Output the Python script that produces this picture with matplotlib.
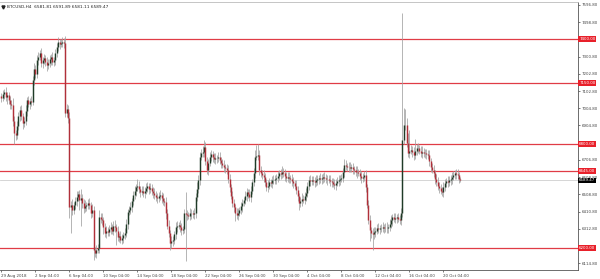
import matplotlib
matplotlib.use('Agg')
import matplotlib.pyplot as plt
import numpy as np

# BTCUSD H4 closes, 29 Aug -> 22 Oct 2018
closes = [
    7063, 7085, 7097, 7070, 7080, 7051, 7030, 7022, 6930, 6860,
    6850, 6900, 6960, 6994, 6960, 6919, 6930, 6990, 7051, 7030,
    7045, 7040, 7166, 7230, 7200, 7281, 7300, 7321, 7264, 7280,
    7293, 7270, 7250, 7264, 7285, 7298, 7270, 7281, 7320, 7356,
    7384, 7375, 7379, 7385, 7379, 6976, 7000, 6950, 6436, 6450,
    6420, 6448, 6470, 6494, 6510, 6477, 6490, 6460, 6430, 6445,
    6448, 6460, 6448, 6402, 6420, 6189, 6172, 6190, 6201, 6379,
    6370, 6362, 6320, 6287, 6300, 6293, 6310, 6321, 6300, 6330,
    6321, 6300, 6264, 6270, 6250, 6258, 6275, 6287, 6340, 6408,
    6420, 6436, 6470, 6505, 6530, 6551, 6560, 6540, 6523, 6530,
    6517, 6530, 6546, 6555, 6540, 6546, 6530, 6517, 6505, 6495,
    6488, 6500, 6505, 6490, 6470, 6465, 6400, 6330, 6287, 6229,
    6240, 6247, 6280, 6321, 6330, 6333, 6320, 6304, 6310, 6402,
    6395, 6390, 6385, 6402, 6400, 6395, 6402, 6494, 6540, 6592,
    6724, 6747, 6753, 6781, 6700, 6649, 6690, 6724, 6740, 6724,
    6710, 6718, 6718, 6725, 6706, 6690, 6678, 6665, 6660, 6649,
    6600, 6551, 6500, 6460, 6436, 6400, 6390, 6405, 6419, 6440,
    6460, 6477, 6500, 6523, 6510, 6494, 6530, 6580, 6632, 6724,
    6730, 6735, 6649, 6630, 6620, 6609, 6580, 6551, 6560, 6580,
    6575, 6590, 6592, 6598, 6603, 6615, 6632, 6625, 6640, 6632,
    6615, 6603, 6610, 6603, 6595, 6585, 6574, 6560, 6534, 6500,
    6459, 6470, 6485, 6477, 6500, 6517, 6560, 6592, 6585, 6592,
    6588, 6580, 6590, 6598, 6603, 6595, 6603, 6610, 6603, 6598,
    6595, 6592, 6585, 6580, 6570, 6563, 6575, 6585, 6592, 6598,
    6603, 6640, 6678, 6670, 6668, 6666, 6660, 6666, 6655, 6649,
    6640, 6635, 6632, 6615, 6603, 6610, 6620, 6551, 6450, 6362,
    6304, 6290, 6280, 6293, 6300, 6316, 6310, 6316, 6316, 6320,
    6316, 6318, 6315, 6321, 6340, 6360, 6379, 6370, 6375, 6379,
    6370, 6362, 6402, 6821, 6907, 6907, 6804, 6747, 6760, 6764,
    6750, 6735, 6760, 6775, 6775, 6760, 6747, 6755, 6745, 6747,
    6740, 6735, 6700, 6666, 6650, 6632, 6600, 6580, 6560, 6546,
    6530, 6523, 6550, 6574, 6585, 6580, 6590, 6600, 6609, 6620,
    6632, 6625, 6620, 6600, 6589.47,
]

# wick lengths above / below the candle body
up_wick = [
    20, 25, 15, 30, 20, 15, 25, 20, 40, 30,
    20, 30, 25, 20, 30, 15, 25, 30, 20, 25,
    15, 30, 25, 35, 20, 30, 25, 20, 30, 20,
    25, 15, 30, 20, 25, 20, 30, 15, 25, 20,
    30, 20, 25, 30, 20, 40, 30, 25, 30, 20,
    30, 20, 25, 35, 20, 25, 50, 20, 25, 30,
    20, 25, 30, 20, 35, 25, 20, 30, 25, 40,
    25, 30, 20, 25, 30, 20, 25, 30, 20, 25,
    30, 20, 25, 20, 30, 25, 20, 30, 25, 20,
    25, 30, 20, 25, 30, 20, 35, 25, 20, 30,
    25, 20, 30, 25, 20, 30, 25, 20, 30, 25,
    20, 25, 30, 20, 25, 20, 30, 25, 30, 20,
    30, 25, 20, 30, 25, 20, 30, 25, 20, 25,
    120, 25, 20, 30, 25, 20, 30, 25, 40, 30,
    30, 25, 35, 40, 30, 25, 20, 30, 25, 20,
    25, 30, 20, 25, 30, 20, 25, 30, 20, 25,
    30, 25, 20, 30, 25, 20, 30, 25, 20, 25,
    25, 20, 30, 25, 20, 30, 25, 20, 30, 40,
    60, 65, 30, 25, 20, 30, 25, 20, 30, 25,
    20, 25, 30, 20, 25, 30, 20, 25, 30, 20,
    25, 20, 30, 25, 20, 30, 25, 20, 30, 25,
    20, 25, 30, 20, 25, 30, 20, 25, 30, 20,
    25, 20, 30, 25, 20, 30, 25, 20, 30, 25,
    20, 25, 30, 20, 25, 30, 20, 25, 30, 20,
    25, 20, 35, 30, 20, 25, 30, 20, 25, 20,
    25, 30, 20, 25, 30, 20, 25, 30, 20, 25,
    30, 20, 25, 30, 20, 25, 30, 20, 25, 30,
    20, 25, 30, 20, 25, 30, 20, 25, 30, 20,
    25, 20, 30, 730, 100, 90, 40, 60, 120, 30,
    25, 30, 70, 25, 30, 20, 25, 30, 20, 25,
    20, 25, 30, 20, 25, 30, 20, 25, 30, 20,
    25, 20, 30, 25, 20, 30, 25, 20, 30, 25,
    20, 25, 30, 20, 10,
]
dn_wick = [
    25, 20, 30, 25, 40, 20, 30, 25, 30, 60,
    30, 25, 20, 30, 25, 35, 20, 25, 30, 20,
    30, 25, 20, 30, 25, 20, 30, 20, 25, 30,
    20, 25, 30, 20, 25, 30, 20, 25, 30, 20,
    25, 30, 20, 25, 30, 20, 25, 30, 60, 150,
    30, 25, 20, 30, 25, 60, 150, 30, 25, 20,
    30, 25, 20, 30, 25, 55, 25, 30, 20, 30,
    25, 30, 40, 25, 30, 20, 25, 30, 20, 25,
    30, 80, 25, 30, 20, 25, 30, 20, 25, 30,
    20, 25, 30, 20, 25, 30, 20, 25, 30, 20,
    25, 30, 20, 25, 30, 20, 25, 30, 20, 25,
    30, 20, 25, 30, 20, 25, 30, 20, 25, 40,
    25, 30, 20, 25, 30, 20, 25, 30, 20, 25,
    270, 30, 20, 25, 30, 20, 25, 30, 20, 25,
    30, 20, 25, 30, 20, 25, 30, 20, 25, 30,
    20, 25, 30, 20, 25, 30, 20, 25, 30, 20,
    25, 30, 20, 25, 30, 45, 25, 30, 20, 25,
    30, 20, 25, 30, 20, 25, 30, 20, 25, 30,
    20, 25, 30, 20, 25, 30, 20, 25, 30, 20,
    25, 30, 20, 25, 30, 20, 25, 30, 20, 25,
    30, 20, 25, 30, 20, 25, 30, 20, 25, 30,
    40, 25, 30, 20, 25, 30, 20, 25, 30, 20,
    25, 30, 20, 25, 30, 20, 25, 30, 20, 25,
    30, 20, 25, 30, 20, 25, 30, 20, 25, 30,
    20, 25, 30, 20, 25, 30, 20, 25, 30, 20,
    25, 30, 20, 25, 30, 20, 25, 30, 20, 25,
    60, 30, 90, 25, 30, 20, 25, 30, 20, 25,
    30, 20, 25, 30, 20, 25, 30, 20, 25, 30,
    20, 25, 30, 20, 25, 30, 20, 25, 30, 20,
    25, 30, 20, 25, 30, 20, 25, 30, 20, 25,
    30, 20, 25, 30, 20, 25, 30, 20, 25, 30,
    20, 25, 30, 20, 25, 30, 20, 25, 30, 20,
    25, 30, 20, 25, 10,
]

# horizontal support / resistance lines
level_prices = [7400.0, 7150.0, 6800.0, 6645.0, 6200.0]
level_labels = ['7400.00', '7150.00', '6800.00', '6645.00', '6200.00']
last_price = 6589.47

ytick_vals = [7596.8, 7498.8, 7400.8, 7300.8, 7202.8, 7102.8, 7004.8, 6904.8,
              6806.8, 6706.8, 6608.8, 6508.8, 6410.8, 6312.8, 6212.8, 6114.8]
# labels that sit under a red level box are not shown on the chart
hidden_ticks = [7400.8, 6806.8, 6212.8]
xtick_labels = ['29 Aug 2018', '2 Sep 04:00', '6 Sep 04:00', '10 Sep 04:00',
                '14 Sep 04:00', '18 Sep 04:00', '22 Sep 04:00', '26 Sep 04:00',
                '30 Sep 04:00', '4 Oct 04:00', '8 Oct 04:00', '12 Oct 04:00',
                '16 Oct 04:00', '20 Oct 04:00']
header = 'BTCUSD,H4  6581.81 6591.89 6581.11 6589.47'

FS = 2.9

n = min(len(closes), len(up_wick), len(dn_wick))
c = np.array(closes[:n], dtype=float)
o = np.concatenate([[c[0] + 10], c[:-1]])
hi = np.maximum(o, c) + np.array(up_wick[:n])
lo = np.minimum(o, c) - np.array(dn_wick[:n])
x = np.arange(n)
up = c >= o

fig = plt.figure(figsize=(6, 2.79), dpi=100)
ax = fig.add_axes([0.0, 9 / 279, 578 / 600, 268 / 279])

ax.axhline(last_price, color='#cfcfcf', lw=0.6, zorder=1)
for p in level_prices:
    ax.axhline(p, color='#e03c46', lw=0.9, zorder=2)

ax.vlines(x, lo, hi, color='#a0a0a0', lw=0.55, zorder=3)
ax.vlines(x[up], o[up], c[up], color='#1f3b27', lw=1.05, zorder=4)
ax.vlines(x[~up], o[~up], c[~up], color='#b0303a', lw=1.05, zorder=4)

ax.set_xlim(-1, 407)
ax.set_ylim(6075, 7614)

ax.yaxis.tick_right()
ax.set_yticks(ytick_vals)
ax.set_yticklabels(['' if v in hidden_ticks else f'{v:.2f}' for v in ytick_vals])
xt = [0] + [24 + 24 * k for k in range(len(xtick_labels) - 1)]
ax.set_xticks(xt)
ax.set_xticklabels(xtick_labels, ha='left')
ax.tick_params(axis='both', labelsize=FS, length=1.5, width=0.5,
               colors='#444444', pad=1.2)
ax.spines['left'].set_visible(False)
ax.spines['top'].set_color('#bbbbbb')
for s in ['right', 'bottom']:
    ax.spines[s].set_color('#555555')
for s in ax.spines.values():
    s.set_linewidth(0.6)

tr = ax.get_yaxis_transform()
for p, lab in zip(level_prices, level_labels):
    ax.text(1.002, p, lab, transform=tr, fontsize=FS, color='white',
            va='center', ha='left', clip_on=False, zorder=10,
            bbox=dict(boxstyle='square,pad=0.22', fc='#e8202a', ec='none'))
ax.text(1.002, last_price, f'{last_price:.2f}', transform=tr, fontsize=FS,
        color='white', va='center', ha='left', clip_on=False, zorder=10,
        bbox=dict(boxstyle='square,pad=0.22', fc='#000000', ec='none'))

ax.plot([0.005], [0.983], marker='v', color='#222222', ms=2.2,
        transform=ax.transAxes, clip_on=False)
ax.text(0.012, 0.983, header, transform=ax.transAxes, fontsize=3.1,
        color='#222222', va='center', ha='left')

fig.savefig('out.png', dpi=100)
